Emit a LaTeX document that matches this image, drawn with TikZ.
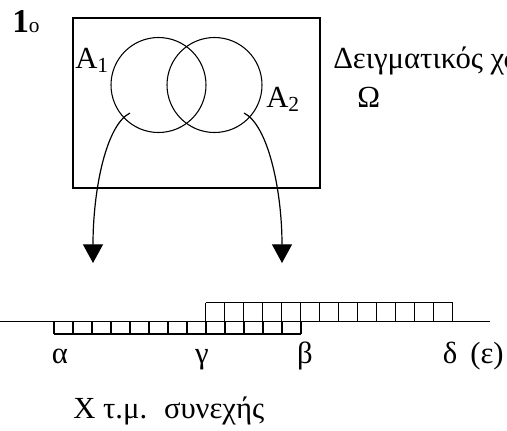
\documentclass[tikz,border=0pt]{standalone}
\usepackage{fontspec}
\setmainfont{Liberation Serif}
\usetikzlibrary{arrows.meta}
\begin{document}
\begin{tikzpicture}[x=0.75pt,y=-0.75pt,
  txt/.style={inner sep=0pt,anchor=base west,font=\fontsize{23}{26}\selectfont},
  lbl/.style={inner sep=0pt,anchor=base,font=\fontsize{23}{26}\selectfont},
  venn/.style={circle,draw,line width=0.8pt,minimum size=71.25pt,inner sep=0pt},
  mapto/.style={line width=0.9pt,-{Triangle[width=15pt,length=14pt]}},
  cell/.style={line width=0.8pt}]
\useasboundingbox (0,0) rectangle (507,430);
\begin{scope}
\clip (0,0) rectangle (507,430);
% title
\node[txt] (num) at (12,32) {{\fontsize{25}{26}\selectfont\textbf{1}}{\fontsize{16}{16}\selectfont o}};
% sample space
\node[draw,line width=0.9pt,minimum width=185.25pt,minimum height=127.5pt,inner sep=0pt] (omega) at (196.5,103) {};
\node[venn] (c1) at (158.5,85) {};
\node[venn] (c2) at (214.5,85) {};
\node[txt] (a1) at (75,68) {A\textsubscript{1}};
\node[txt] (a2) at (266,107) {A\textsubscript{2}};
\node[txt] (space) at (333,68) {Δειγματικός χώρος};
\node[txt] (om) at (357,107) {Ω};
% arrows
\coordinate (s1) at (130,113);
\coordinate (e1) at (93,263);
\coordinate (s2) at (244,113);
\coordinate (e2) at (282,263);
\draw[mapto] (s1) .. controls (106,125) and (93,190) .. (e1);
\draw[mapto] (s2) .. controls (268,125) and (282,190) .. (e2);
% axis
\coordinate (l0) at (0,321.7);
\coordinate (l1) at (490,321.7);
\draw[line width=0.9pt] (l0) -- (l1);
% lower cells: alpha..beta
\draw[cell] (54,334) -- (301,334);
\foreach \k in {0,...,13} \draw[cell] ({54+19*\k},334) -- ({54+19*\k},321.7);
% upper cells: gamma..delta
\draw[cell] (205.7,302.7) -- (452.7,302.7);
\foreach \k in {0,...,13} \draw[cell] ({205.7+19*\k},302.7) -- ({205.7+19*\k},321.7);
% labels
\node[lbl] (la) at (60,363) {α};
\node[lbl] (lg) at (202,363) {γ};
\node[lbl] (lb) at (305,363) {β};
\node[lbl] (ld) at (450,363) {δ};
\node[lbl] (le) at (487,363) {(ε)};
\node[txt] (x) at (73,418) {Χ τ.μ.\hspace{5pt} συνεχής};
\end{scope}
\end{tikzpicture}
\end{document}
